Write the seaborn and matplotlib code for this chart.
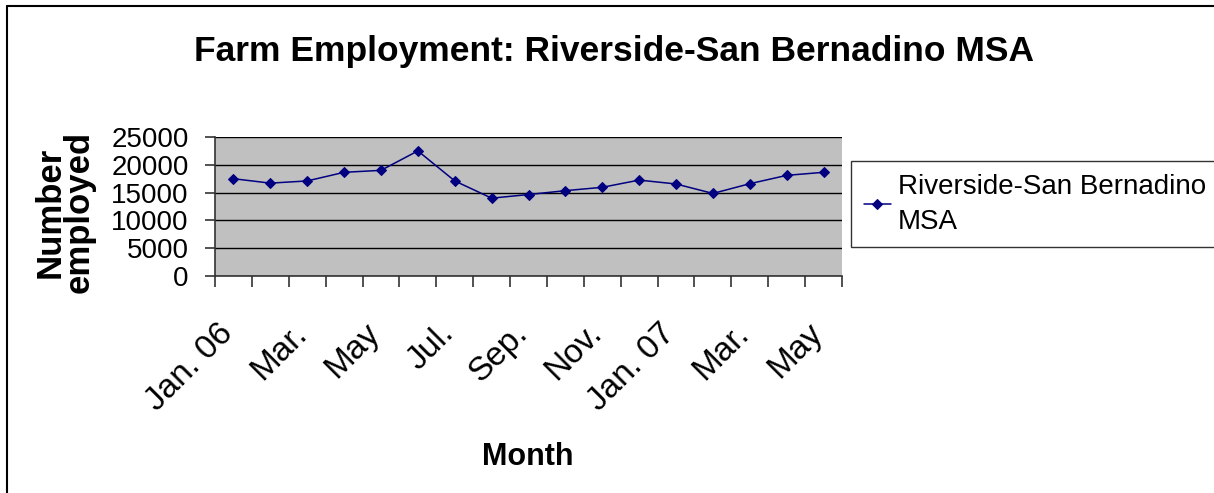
import matplotlib
matplotlib.use("Agg")
import matplotlib.pyplot as plt
import matplotlib.transforms as mtransforms
from matplotlib.lines import Line2D
import seaborn as sns
import pandas as pd

months = ["Jan. 06", "Feb.", "Mar.", "Apr.", "May", "Jun.", "Jul.", "Aug.", "Sep.",
          "Oct.", "Nov.", "Dec.", "Jan. 07", "Feb.", "Mar.", "Apr.", "May"]
employed = [17500, 16700, 17100, 18650, 19000, 22500, 17100, 14000, 14650,
            15350, 15950, 17250, 16550, 14850, 16600, 18100, 18650]
tick_labels = ["Jan. 06", "Mar.", "May", "Jul.", "Sep.", "Nov.", "Jan. 07", "Mar.", "May"]
y_ticks = [0, 5000, 10000, 15000, 20000, 25000]
series_name = "Riverside-San Bernadino\nMSA"

sns.set_theme(style="white")
plt.rcParams["font.family"] = ["Liberation Sans", "DejaVu Sans"]
plt.rcParams["text.color"] = "black"
plt.rcParams["xtick.color"] = "black"
plt.rcParams["ytick.color"] = "black"
plt.rcParams["xtick.labelcolor"] = "black"
plt.rcParams["ytick.labelcolor"] = "black"

df = pd.DataFrame({"idx": list(range(len(months))), "value": employed,
                   "series": series_name})

fig = plt.figure(figsize=(12.14, 4.93), dpi=100)
fig.patch.set_facecolor("white")
ax = fig.add_axes([215 / 1214, 1 - 276 / 493, 627 / 1214, 139 / 493])
ax.set_facecolor("#C0C0C0")

sns.lineplot(data=df, x="idx", y="value", hue="series", palette=["#000080"],
             marker="D", markersize=5, markeredgecolor="#000080", linewidth=1.1,
             ax=ax, legend=True)

ax.set_xlim(-0.5, len(months) - 0.5)
ax.set_ylim(0, 25000)
ax.set_yticks(y_ticks)
ax.set_yticklabels([str(v) for v in y_ticks])
ax.yaxis.grid(True, color="black", linewidth=1)
ax.set_axisbelow(True)

# category boundaries as major ticks, labels as minor ticks
ax.set_xticks([i - 0.5 for i in range(len(months) + 1)])
ax.set_xticklabels([])
ax.set_xticks(list(range(0, len(months), 2)), tick_labels, minor=True)
ax.tick_params(axis="x", which="major", direction="out", length=8, width=1.2,
               color="#333333", bottom=True)
ax.tick_params(axis="x", which="minor", length=0, pad=38, labelsize=24)
ax.tick_params(axis="y", direction="out", length=7, width=1.2, color="#333333",
               left=True, pad=12, labelsize=20)
offset = mtransforms.ScaledTranslation(-4 / 72, 0, fig.dpi_scale_trans)
for lab in ax.get_xticklabels(minor=True):
    lab.set_rotation(45)
    lab.set_ha("right")
    lab.set_va("center")
    lab.set_rotation_mode("anchor")
    lab.set_transform(lab.get_transform() + offset)

for s in ["top", "right"]:
    ax.spines[s].set_visible(False)
for s in ["left", "bottom"]:
    ax.spines[s].set_color("#333333")
    ax.spines[s].set_linewidth(1.2)

ax.set_xlabel("")
ax.set_ylabel("")

fig.text(528 / 1214, 1 - 457 / 493, "Month", ha="center", va="center",
         fontsize=22, fontweight="bold")
fig.text(65 / 1214, 1 - 212 / 493, "Number\nemployed", ha="center", va="center",
         rotation=90, fontsize=25, fontweight="bold", linespacing=0.85,
         multialignment="center")
fig.suptitle("Farm Employment: Riverside-San Bernadino MSA", x=614 / 1214,
             y=1 - 52 / 493, va="center", fontsize=25.5, fontweight="bold")

handles, labels = ax.get_legend_handles_labels()
ax.legend(handles, labels, loc="upper left",
          bbox_to_anchor=(851 / 1214, 1 - 161 / 493), bbox_transform=fig.transFigure,
          frameon=True, fancybox=False, edgecolor="black", fontsize=20,
          handlelength=1.0, handletextpad=0.25, borderpad=0.45, borderaxespad=0)
leg = ax.get_legend()
leg.get_frame().set_linewidth(1)
leg.get_frame().set_facecolor("white")
for t in leg.get_texts():
    t.set_linespacing(1.45)
    t.set_color("black")

# outer chart border (left and top visible)
fig.add_artist(Line2D([7 / 1214, 7 / 1214], [0, 1 - 6 / 493], transform=fig.transFigure,
                      color="black", linewidth=1.5))
fig.add_artist(Line2D([7 / 1214, 1], [1 - 6 / 493, 1 - 6 / 493], transform=fig.transFigure,
                      color="black", linewidth=1.5))

fig.savefig("out.png", dpi=100)
